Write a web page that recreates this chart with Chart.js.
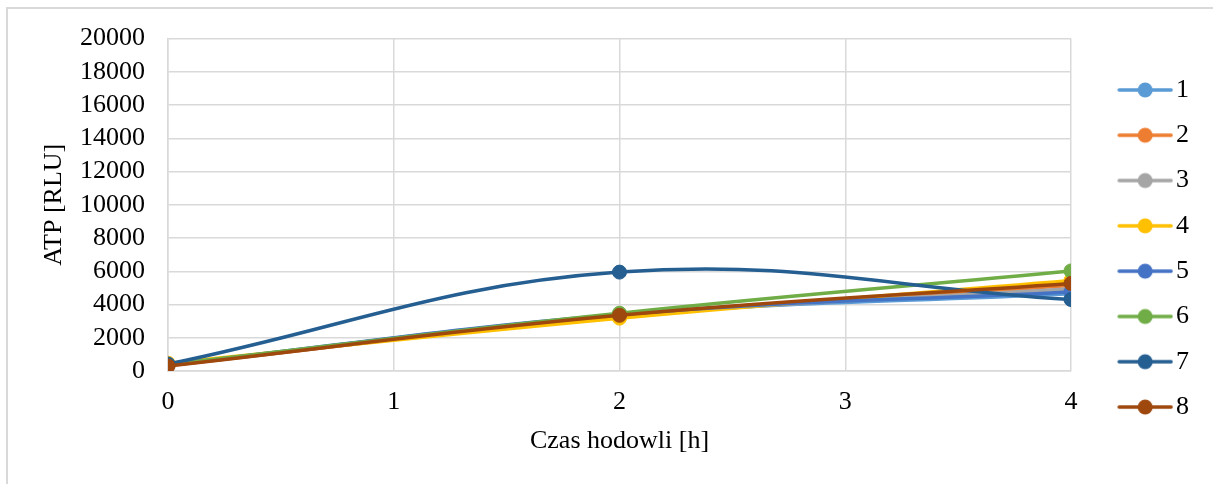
<!DOCTYPE html>
<html>
<head>
<meta charset="utf-8">
<script src="https://cdn.jsdelivr.net/npm/chart.js@4.4.0/dist/chart.umd.min.js"></script>
<style>
    body { margin: 0; background: #fff; }
    #ramka { position: absolute; left: 6px; top: 7px; width: 1300px; height: 600px;
             border-top: 2px solid #d9d9d9; border-left: 2px solid #d9d9d9; pointer-events: none; }
    #wykres { position: absolute; left: 0; top: 0; }
</style>
</head>
<body>
<canvas id="wykres" width="1213" height="484"></canvas>
<div id="ramka"></div>
<script>
// czas hodowli [h]
var czas = [0, 2, 4];
var etykietyOsiY = [0, 2000, 4000, 6000, 8000, 10000, 12000, 14000, 16000, 18000, 20000];

var nazwy = ['1', '2', '3', '4', '5', '6', '7', '8'];
var kolory = ['#5B9BD5', '#ED7D31', '#A5A5A5', '#FFC000', '#4472C4', '#70AD47', '#255E91', '#9E480E'];

var seria1 = [350, 3350, 4650];
var seria2 = [330, 3300, 5150];
var seria3 = [340, 3300, 4950];
var seria4 = [470, 3180, 5450];
var seria5 = [360, 3400, 4760];
var seria6 = [380, 3480, 6020];
var seria7 = [420, 5950, 4300];
var seria8 = [300, 3350, 5270];
var serie = [seria1, seria2, seria3, seria4, seria5, seria6, seria7, seria8];

var czcionka = 'Liberation Serif, Times New Roman, serif';

// ikonka legendy: linia z kolkiem
var szerLegendy = 72.7;
function ikonka(kolor) {
    var c = document.createElement('canvas');
    c.width = 93;
    c.height = 20;
    var g = c.getContext('2d');
    g.strokeStyle = kolor;
    g.lineWidth = 3.5;
    g.lineCap = 'round';
    g.beginPath();
    g.moveTo(39, 10);
    g.lineTo(91, 10);
    g.stroke();
    g.fillStyle = kolor;
    g.beginPath();
    g.arc(65, 10, 7.5, 0, Math.PI * 2);
    g.fill();
    return c;
}

// odwrotna kolejnosc, zeby seria 8 byla na wierzchu
var zbiory = [];
for (var i = serie.length - 1; i >= 0; i--) {
    zbiory.push({
        label: nazwy[i],
        data: czas.map(function (x, k) { return {x: x, y: serie[i][k]}; }),
        borderColor: kolory[i],
        backgroundColor: kolory[i],
        borderWidth: 3.5,
        pointRadius: 7,
        pointBorderWidth: 1,
        tension: 0.4,
        ikonka: ikonka(kolory[i])
    });
}

var ctx = document.getElementById('wykres').getContext('2d');
var myChart = new Chart(ctx, {
    type: 'line',
    data: { datasets: zbiory },
    options: {
        responsive: false,
        animation: false,
        layout: { padding: { top: 38, bottom: 25, left: 0, right: 14 } },
        plugins: {
            tooltip: { enabled: false },
            legend: {
                position: 'right',
                reverse: true,
                labels: {
                    usePointStyle: true,
                    pointStyleWidth: szerLegendy,
                    padding: 19.3,
                    color: '#000',
                    font: { family: czcionka, size: 26 },
                    generateLabels: function (chart) {
                        var lista = Chart.defaults.plugins.legend.labels.generateLabels(chart);
                        lista.forEach(function (el) {
                            el.pointStyle = chart.data.datasets[el.datasetIndex].ikonka;
                        });
                        return lista;
                    }
                }
            }
        },
        scales: {
            x: {
                type: 'linear',
                min: 0,
                max: 4,
                ticks: { stepSize: 1, color: '#000', padding: 16, font: { family: czcionka, size: 26 },
                         callback: function (v) { return String(v); } },
                grid: { color: '#d9d9d9', lineWidth: 1.5, drawTicks: false },
                border: { color: '#d9d9d9', width: 1.5 },
                title: { display: true, text: 'Czas hodowli [h]', color: '#000',
                         font: { family: czcionka, size: 26 }, padding: { top: 0, bottom: 2.4 } },
                afterFit: function (s) { s.height = 88; }
            },
            y: {
                min: 0,
                max: 20000,
                afterBuildTicks: function (s) {
                    s.ticks = etykietyOsiY.map(function (v) { return {value: v}; });
                },
                ticks: { autoSkip: false, color: '#000', padding: 23, font: { family: czcionka, size: 26 },
                         callback: function (v) { return String(v); } },
                grid: { color: '#d9d9d9', lineWidth: 1.5, drawTicks: false },
                border: { color: '#d9d9d9', width: 1.5 },
                title: { display: true, text: 'ATP [RLU]', color: '#000',
                         font: { family: czcionka, size: 26 }, padding: { top: 39, bottom: 0 } },
                afterFit: function (s) { s.width = 168; }
            }
        }
    }
});
</script>
</body>
</html>
